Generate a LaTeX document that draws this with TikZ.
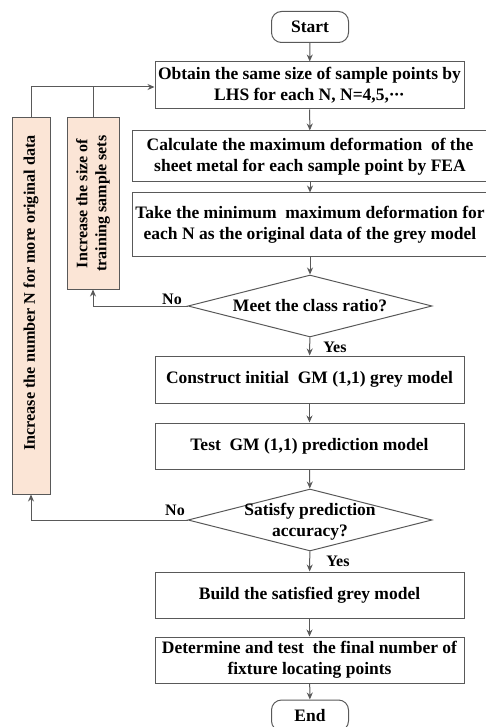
\documentclass[tikz,border=0pt]{standalone}
\usepackage{fontspec}
\setmainfont{Liberation Serif}
\usetikzlibrary{arrows.meta,shapes.geometric}
\definecolor{lc}{RGB}{89,89,89}
\definecolor{peach}{RGB}{251,229,214}
\tikzset{
  base/.style={draw=lc, line width=1pt, inner sep=0pt, align=center, font=\bfseries\fontsize{17.5}{21}\selectfont},
  procbox/.style={base, rectangle, minimum height=47pt},
  termbox/.style={base, rectangle, rounded corners=10pt, minimum width=77pt, minimum height=31pt},
  sidebox/.style={base, rectangle, fill=peach},
  diabox/.style={draw=lc, line width=1pt, diamond, inner sep=0pt, minimum width=244pt, minimum height=62pt},
  txt/.style={inner sep=0pt, align=center, font=\bfseries\fontsize{17.5}{21}\selectfont},
  lbl/.style={inner sep=0pt, font=\bfseries\fontsize{16}{19}\selectfont},
  conn/.style={draw=lc, line width=1pt, -{Stealth[length=7pt,width=6pt]}},
  plain/.style={draw=lc, line width=1pt}
}
\newcommand{\mydots}{\textperiodcentered\kern-0.05em\textperiodcentered\kern-0.05em\textperiodcentered}
\begin{document}
\begin{tikzpicture}[x=1pt,y=-1pt]
\useasboundingbox (0,0) rectangle (486,727);
\node[termbox] (start) at (310,27) {Start};
\node[procbox, minimum width=309pt] (b1) at (309.5,85.5) {Obtain the same size of sample points by\\LHS for each N, N=4,5,\mydots};
\node[procbox, minimum width=356pt, minimum height=51pt] (b2) at (310,156.5) {Calculate the maximum deformation\ \ of the\\sheet metal for each sample point by FEA};
\node[procbox, minimum width=356pt, minimum height=63pt] (b3) at (310,224.5) {Take the minimum\ \ maximum deformation for\\each N as the original data of the grey model};
\node[diabox] (d1) at (310,306) {};
\node[txt] (d1t) at (310,306) {Meet the class ratio?};
\node[procbox, minimum width=309pt] (b4) at (309.5,379.5) {Construct initial\ \ GM (1,1) grey model};
\node[procbox, minimum width=309pt, minimum height=46pt] (b5) at (309.5,446) {Test\ \ GM (1,1) prediction model};
\node[diabox] (d2) at (310,520) {};
\node[txt] (d2t) at (310,522) {Satisfy prediction\\accuracy?};
\node[procbox, minimum width=309pt, minimum height=46pt] (b6) at (309.5,595) {Build the satisfied grey model};
\node[procbox, minimum width=309pt, minimum height=46pt] (b7) at (309.5,660) {Determine and test\ \ the final number of\\fixture locating points};
\node[termbox] (end) at (310,715.5) {End};
\node[sidebox, minimum width=38pt, minimum height=376pt, font=\bfseries\fontsize{16.2}{19}\selectfont] (L1) at (31,306) {\rotatebox{90}{\hspace*{26pt}Increase the number N for more original data}};
\node[sidebox, minimum width=52pt, minimum height=171pt, font=\bfseries\fontsize{16}{19}\selectfont] (L2) at (93,203.5) {\rotatebox{90}{\begin{tabular}{@{}c@{}}Increase the size of\\training sample sets\end{tabular}}};
\coordinate (top) at (31,87);
\coordinate (j2) at (93,87);
\draw[conn] (start) -- (b1);
\draw[conn] (b1) -- (b2);
\draw[conn] (b2) -- (b3);
\draw[conn] (b3) -- (d1);
\draw[conn] (d1) -- (b4);
\draw[conn] (b4) -- (b5);
\draw[conn] (b5) -- (d2);
\draw[conn] (d2) -- (b6);
\draw[conn] (b6) -- (b7);
\draw[conn] (b7) -- (end);
\draw[conn] (d1.west) -| (L2.south);
\draw[conn] (d2.west) -| (L1.south);
\draw[conn] (L1.north) |- (b1.west |- top);
\draw[plain] (L2.north) -- (j2);
\node[lbl] (no1) at (172,299) {No};
\node[lbl] (no2) at (175,510) {No};
\node[lbl] (yes1) at (335,347) {Yes};
\node[lbl] (yes2) at (338,561) {Yes};
\end{tikzpicture}
\end{document}
